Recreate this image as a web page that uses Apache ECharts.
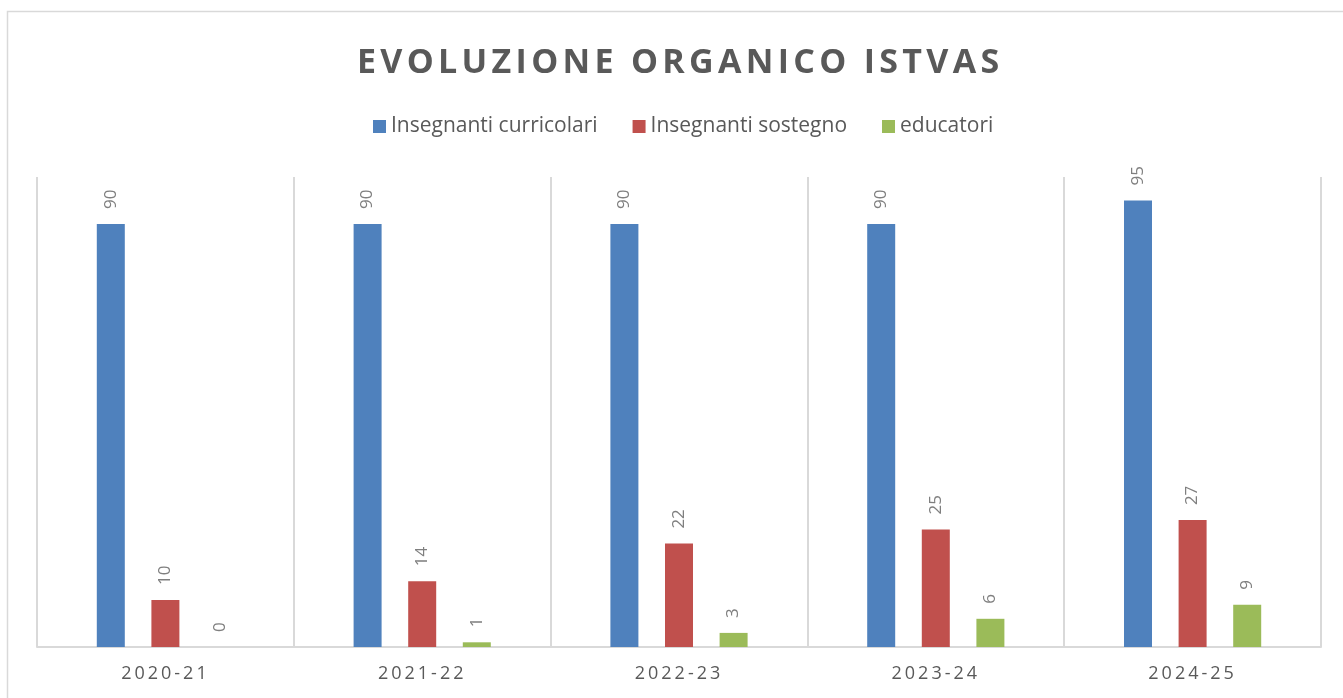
<!DOCTYPE html>
<html>
<head>
<meta charset="utf-8">
<script src="https://cdn.jsdelivr.net/npm/echarts@6/dist/echarts.min.js"></script>
<style>
  html, body { margin: 0; padding: 0; background: #fff; }
  #chart { width: 1343px; height: 698px; }
</style>
</head>
<body>
<div id="chart"></div>
<script>
  // dati
  const anni = ['2020-21', '2021-22', '2022-23', '2023-24', '2024-25'];
  const curricolari = [90, 90, 90, 90, 95];
  const sostegno = [10, 14, 22, 25, 27];
  const educatori = [0, 1, 3, 6, 9];

  // spaziatura lettere (titolo e asse x) - echarts non la gestisce, la mettiamo sul canvas
  const spaziatura = { '34px': '4.3px', '18px': '3px' };
  const fillOrig = CanvasRenderingContext2D.prototype.fillText;
  CanvasRenderingContext2D.prototype.fillText = function (t, x, y, w) {
    let ls = '0px';
    for (let k in spaziatura) {
      if (this.font.indexOf(k) >= 0) ls = spaziatura[k];
    }
    if ('letterSpacing' in this) this.letterSpacing = ls;
    return w === undefined ? fillOrig.call(this, t, x, y) : fillOrig.call(this, t, x, y, w);
  };

  let myChart = echarts.init(document.getElementById('chart'));

  let etichetta = {
    show: true,
    position: 'top',
    rotate: 90,
    align: 'left',
    verticalAlign: 'middle',
    distance: 15,
    color: '#7f7f7f',
    fontSize: 17,
    fontFamily: 'Open Sans'
  };

  let option = {
    backgroundColor: '#fff',
    animation: false,
    graphic: [{
      type: 'rect',
      shape: { x: 7.5, y: 11.5, width: 1345, height: 700 },
      style: { fill: 'none', stroke: '#d9d9d9', lineWidth: 1.5 },
      silent: true
    }],
    title: {
      text: 'EVOLUZIONE ORGANICO ISTVAS',
      left: 352,
      top: 41,
      textStyle: {
        color: '#595959',
        fontSize: 34,
        fontWeight: 'bold',
        fontFamily: 'Open Sans'
      }
    },
    legend: {
      data: ['Insegnanti curricolari', 'Insegnanti sostegno', 'educatori'],
      top: 111,
      left: 368,
      itemWidth: 13,
      itemHeight: 13,
      itemGap: 35,
      icon: 'rect',
      textStyle: {
        color: '#595959',
        fontSize: 21,
        fontFamily: 'Open Sans'
      }
    },
    grid: {
      left: 37,
      right: 22,
      top: 177,
      bottom: 51,
      containLabel: false
    },
    xAxis: {
      type: 'category',
      data: anni,
      axisLine: { lineStyle: { color: '#d9d9d9', width: 2 } },
      axisTick: { show: false },
      splitLine: { show: true, lineStyle: { color: '#d9d9d9', width: 2 } },
      axisLabel: {
        color: '#595959',
        fontSize: 18,
        fontFamily: 'Open Sans',
        margin: 18
      }
    },
    yAxis: {
      type: 'value',
      min: 0,
      max: 100,
      show: false,
      splitLine: { show: false }
    },
    series: [
      {
        name: 'Insegnanti curricolari',
        type: 'bar',
        data: curricolari,
        barWidth: 28,
        barGap: '95%',
        itemStyle: { color: '#4f81bd' },
        label: etichetta
      },
      {
        name: 'Insegnanti sostegno',
        type: 'bar',
        data: sostegno,
        barWidth: 28,
        barGap: '95%',
        itemStyle: { color: '#c0504d' },
        label: etichetta
      },
      {
        name: 'educatori',
        type: 'bar',
        data: educatori,
        barWidth: 28,
        barGap: '95%',
        itemStyle: { color: '#9bbb59' },
        label: etichetta
      }
    ]
  };

  myChart.setOption(option);
</script>
</body>
</html>
